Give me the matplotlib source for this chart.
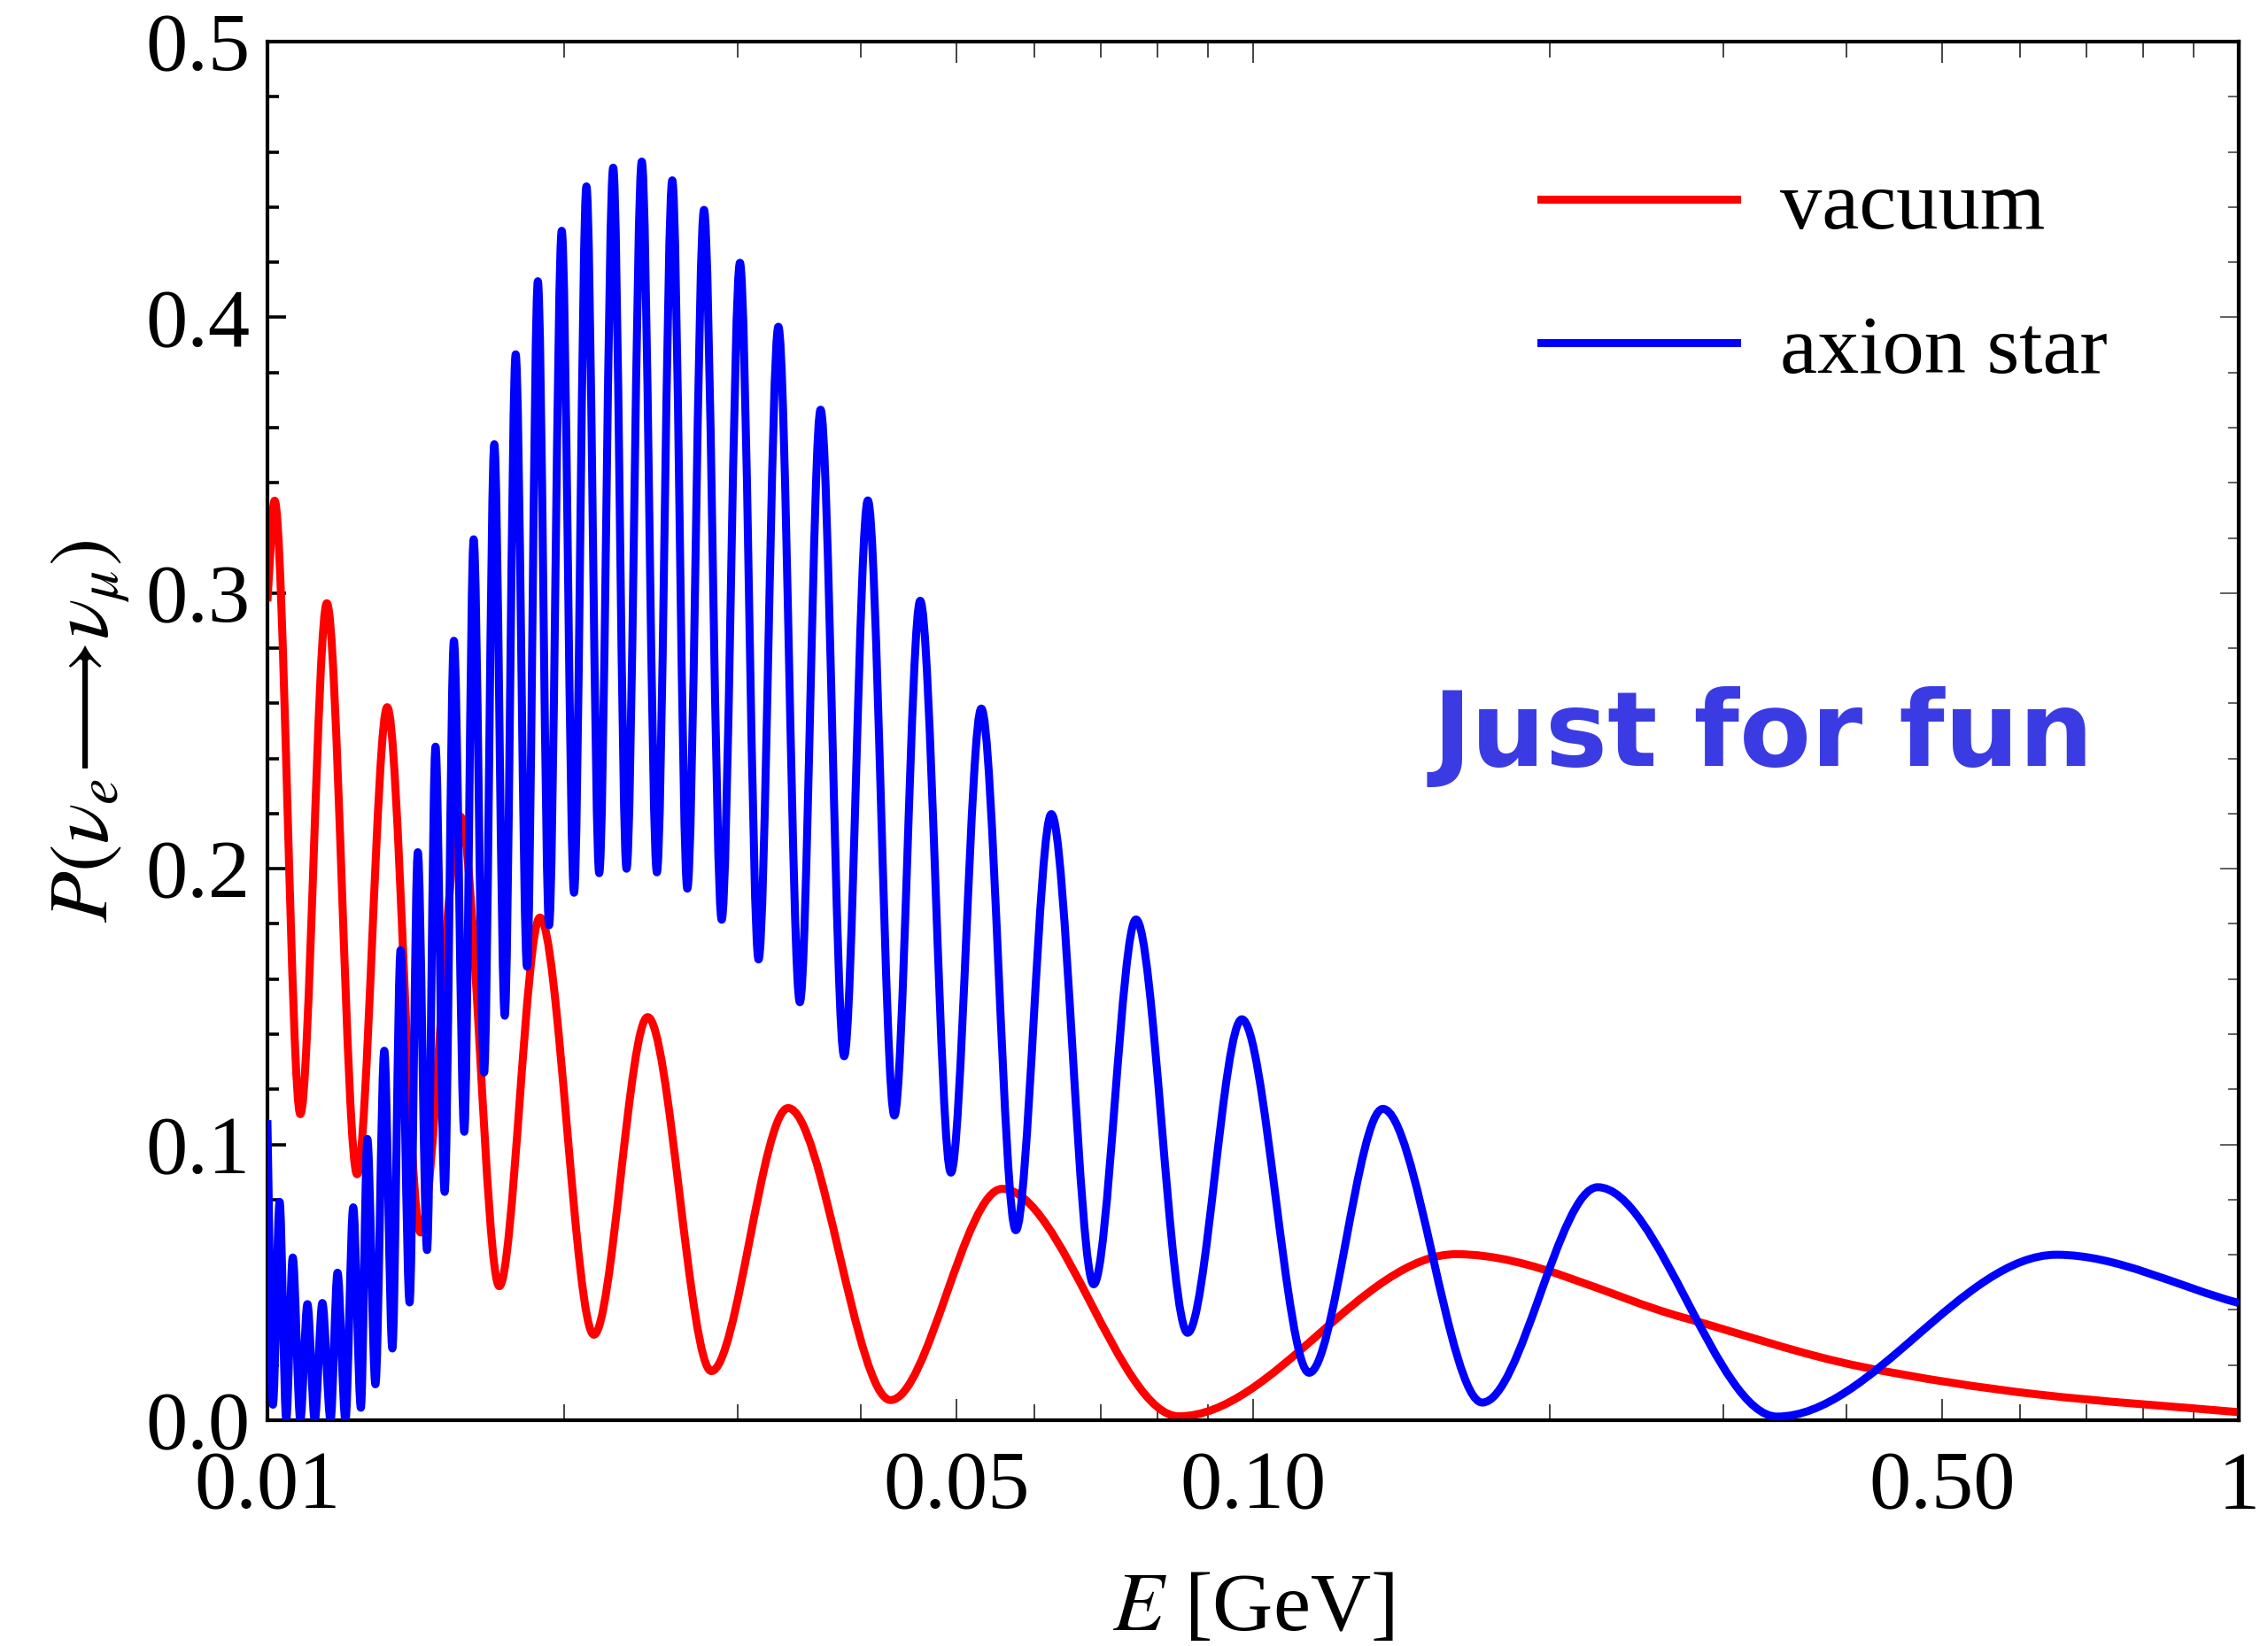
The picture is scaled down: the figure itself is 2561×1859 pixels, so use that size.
import numpy as np
import matplotlib
matplotlib.use('Agg')
import matplotlib.pyplot as plt
from matplotlib.path import Path
from matplotlib.patches import PathPatch
from matplotlib.lines import Line2D
from matplotlib.ticker import NullFormatter

plt.rcParams['font.family'] = ['Liberation Serif', 'DejaVu Serif']
plt.rcParams['mathtext.fontset'] = 'stix'

# turning points: E [GeV], P
vac_E = [0.0100, 0.01017, 0.0108, 0.01149, 0.01233, 0.01323, 0.0143, 0.0157,
         0.01719, 0.0189, 0.02144, 0.02431, 0.02821, 0.03375, 0.04288, 0.05564,
         0.08409, 0.1607, 0.2733, 0.414, 0.6266, 1.0]
vac_P = [0.297, 0.3335, 0.111, 0.2963, 0.0892, 0.2586, 0.0681, 0.2189,
         0.0486, 0.1823, 0.031, 0.1462, 0.0178, 0.1132, 0.0073, 0.0839,
         0.0014, 0.0602, 0.0372, 0.0194, 0.0093, 0.0029]

star_E = [0.0100, 0.01013, 0.01029, 0.01045, 0.01061, 0.01080, 0.01098, 0.01117,
          0.01137, 0.01159, 0.01178, 0.01200, 0.01222, 0.01244, 0.01263, 0.01287,
          0.01314, 0.01339, 0.01365, 0.01394, 0.01421, 0.01452, 0.01481, 0.01513,
          0.01546, 0.01584, 0.01619, 0.01659, 0.01699, 0.01741, 0.01786, 0.01834,
          0.01881, 0.01931, 0.01989, 0.02047, 0.02107, 0.02171, 0.02243, 0.02314,
          0.02398, 0.02484, 0.02575, 0.02667, 0.02773, 0.02890, 0.03016, 0.03150,
          0.03299, 0.03469, 0.03641, 0.03847, 0.04066, 0.04326, 0.04595, 0.04937,
          0.05300, 0.05745, 0.06242, 0.06891, 0.07607, 0.08582, 0.09741, 0.11399,
          0.13541, 0.17082, 0.22369, 0.34010, 0.65335, 1.0]
star_P = [0.1088, 0.0056, 0.0792, 0.0003, 0.059, 0.0, 0.0421, 0.0,
          0.0425, 0.0, 0.0535, 0.0, 0.0772, 0.0045, 0.1020, 0.013,
          0.134, 0.026, 0.1705, 0.0427, 0.206, 0.0617, 0.2443, 0.0828,
          0.2827, 0.1046, 0.3195, 0.1261, 0.3540, 0.1467, 0.3866, 0.1645,
          0.4131, 0.1795, 0.4314, 0.1913, 0.4475, 0.1984, 0.4543, 0.2000,
          0.4565, 0.1987, 0.4497, 0.1928, 0.4390, 0.1815, 0.4198, 0.1671,
          0.3966, 0.1516, 0.3665, 0.1320, 0.3336, 0.1105, 0.2972, 0.0898,
          0.2581, 0.0689, 0.2198, 0.0493, 0.1816, 0.0317, 0.1454, 0.0172,
          0.1129, 0.0064, 0.0845, 0.0013, 0.0600, 0.0425]

x_ticks = [0.01, 0.05, 0.1, 0.5, 1]
x_labels = ['0.01', '0.05', '0.10', '0.50', '1']
y_ticks = [0.0, 0.1, 0.2, 0.3, 0.4, 0.5]
y_labels = ['0.0', '0.1', '0.2', '0.3', '0.4', '0.5']


def bezier_path(E, P):
    # cubic bezier segments between the read points, flat at turning points
    u = np.log10(E)
    p = np.asarray(P, float)
    h = np.diff(u)
    d = np.diff(p) / h
    m = np.zeros(len(u))
    m[0] = d[0]
    m[-1] = d[-1]
    for k in range(1, len(u) - 1):
        if d[k - 1] * d[k] > 0:
            w1 = 2 * h[k] + h[k - 1]
            w2 = h[k] + 2 * h[k - 1]
            m[k] = (w1 + w2) / (w1 / d[k - 1] + w2 / d[k])
    verts = [(E[0], p[0])]
    codes = [Path.MOVETO]
    for k in range(len(h)):
        verts.append((10 ** (u[k] + h[k] / 3), p[k] + m[k] * h[k] / 3))
        verts.append((10 ** (u[k + 1] - h[k] / 3), p[k + 1] - m[k + 1] * h[k] / 3))
        verts.append((E[k + 1], p[k + 1]))
        codes += [Path.CURVE4] * 3
    return Path(verts, codes)


fig = plt.figure(figsize=(25.61, 18.59), dpi=100)
ax = fig.add_axes([0.1179, 0.1372, 0.8692, 0.8375])
ax.set_xscale('log')
ax.set_xlim(0.01, 1)
ax.set_ylim(0, 0.5)

lw = 6.5
ax.add_patch(PathPatch(bezier_path(vac_E, vac_P), fill=False, edgecolor='#ff0000',
                       lw=lw, joinstyle='round', zorder=2))
ax.add_patch(PathPatch(bezier_path(star_E, star_P), fill=False, edgecolor='#0000ff',
                       lw=lw, joinstyle='round', zorder=3))

for s in ax.spines.values():
    s.set_linewidth(3)

ax.set_xticks(x_ticks)
ax.set_xticklabels(x_labels)
minor_x = [0.02, 0.03, 0.04, 0.06, 0.07, 0.08, 0.09, 0.2, 0.3, 0.4, 0.6, 0.7, 0.8, 0.9]
ax.set_xticks(minor_x, minor=True)
ax.xaxis.set_minor_formatter(NullFormatter())
ax.set_yticks(y_ticks)
ax.set_yticklabels(y_labels)
ax.set_yticks(np.arange(0, 0.501, 0.02), minor=True)

ax.tick_params(axis='x', which='both', direction='in', top=True, width=1.4,
               color='#444444', labelsize=68, pad=25)
ax.tick_params(axis='x', which='major', length=17)
ax.tick_params(axis='x', which='minor', length=13)
ax.tick_params(axis='y', which='both', direction='in', width=2.6, labelsize=68, pad=14)
ax.tick_params(axis='y', which='major', length=15)
ax.tick_params(axis='y', which='minor', length=9)

sec = ax.secondary_yaxis('right')
sec.set_yticks(y_ticks)
sec.set_yticklabels([])
sec.set_yticks(np.arange(0, 0.501, 0.02), minor=True)
sec.tick_params(which='both', direction='in', width=1.2, color='#444444')
sec.tick_params(which='major', length=15)
sec.tick_params(which='minor', length=9)
sec.spines['right'].set_linewidth(3)

ax.set_xlabel('$E$ [GeV]', fontsize=68, labelpad=38)
ax.set_ylabel(r'$P(\nu_e\!\longrightarrow\!\nu_\mu)$', fontsize=68, labelpad=12)

handles = [Line2D([], [], color='#ff0000', lw=lw),
           Line2D([], [], color='#0000ff', lw=lw)]
ax.legend(handles, ['vacuum', 'axion star'], loc='upper left',
          bbox_to_anchor=(0.646, 0.907), frameon=False, fontsize=68,
          handlelength=2.34, handletextpad=0.52, labelspacing=0.81,
          borderpad=0, borderaxespad=0)

ax.text(0.7588, 0.4952, 'Just for fun', transform=ax.transAxes, ha='center',
        va='center', fontsize=85, family='DejaVu Sans', fontweight='bold',
        color='#3b3be3')

fig.savefig('out.png', dpi=100)
